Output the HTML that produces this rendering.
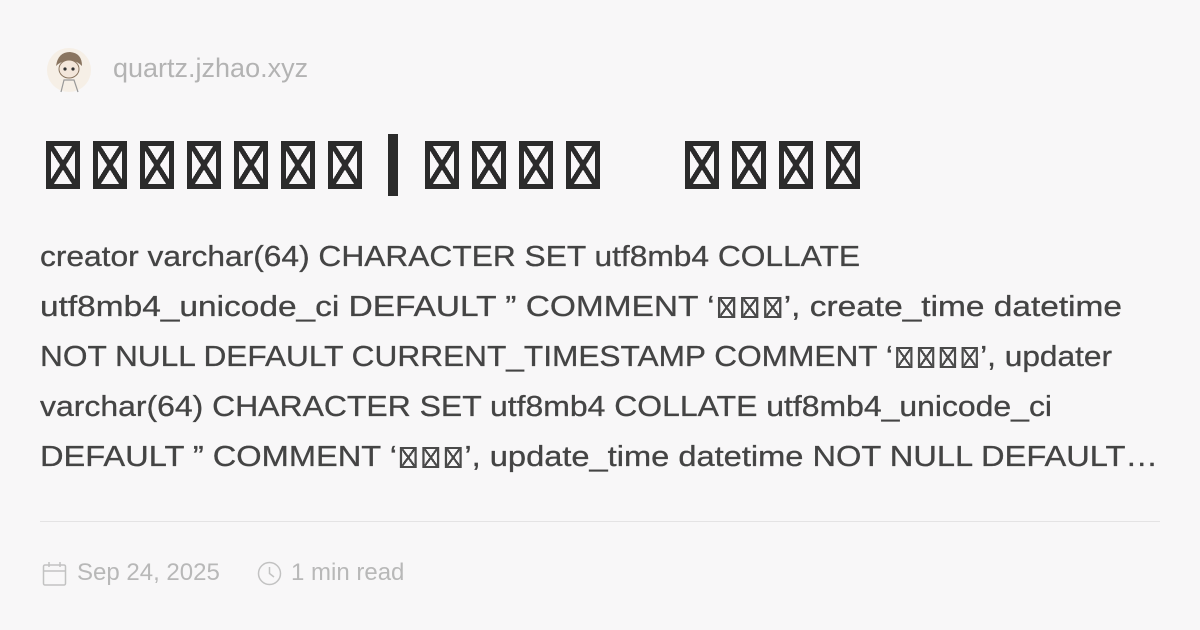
<!DOCTYPE html>
<html><head><meta charset="utf-8">
<style>
html,body{margin:0;padding:0;}
body{width:1200px;height:630px;background:#f8f7f8;position:relative;overflow:hidden;font-family:"Liberation Sans","Noto Sans CJK SC",sans-serif;}
.abs{position:absolute;}
.tb{display:block;position:absolute;top:0;box-sizing:border-box;border:5px solid #2b2b2b;width:34px;height:48px;
background:linear-gradient(to top right,transparent calc(50% - 2.5px),#2b2b2b calc(50% - 2.5px),#2b2b2b calc(50% + 2.5px),transparent calc(50% + 2.5px)),
linear-gradient(to top left,transparent calc(50% - 2.5px),#2b2b2b calc(50% - 2.5px),#2b2b2b calc(50% + 2.5px),transparent calc(50% + 2.5px));}
.sb{display:inline-block;box-sizing:border-box;border:2px solid #4a4a4a;width:15px;height:21px;margin:0 2.5px;vertical-align:-2px;
background:linear-gradient(to top right,transparent calc(50% - 1px),#4a4a4a calc(50% - 1px),#4a4a4a calc(50% + 1px),transparent calc(50% + 1px)),
linear-gradient(to top left,transparent calc(50% - 1px),#4a4a4a calc(50% - 1px),#4a4a4a calc(50% + 1px),transparent calc(50% + 1px));}
.line{position:absolute;left:40px;white-space:nowrap;font-size:29px;color:#444;transform-origin:0 50%;line-height:36px;-webkit-text-stroke:0.3px #444;}
.meta{font-size:24px;color:#b8b8b8;}
</style></head><body>
<svg class="abs" style="left:46px;top:46px" width="46" height="48" viewBox="0 0 46 48">
<circle cx="23" cy="24" r="22" fill="#f6efe6"/>
<path d="M10 20 Q12 6 24 6 Q36 7 36 20 Q30 14 24 15 Q16 14 10 20Z" fill="#8a7560"/>
<ellipse cx="23" cy="23" rx="10" ry="9" fill="#f3e6da" stroke="#8a7560" stroke-width="1"/>
<circle cx="19" cy="23" r="1.6" fill="#333"/><circle cx="27" cy="23" r="1.6" fill="#333"/>
<path d="M15 46 L18 34 L28 34 L32 46" fill="none" stroke="#999" stroke-width="1.2"/>
</svg>
<div class="abs" style="left:113px;top:53px;font-size:27px;color:#b3b3b3;">quartz.jzhao.xyz</div>

<div class="abs" style="left:46px;top:141px;width:900px;height:48px;">
<span class="tb" style="left:0"></span><span class="tb" style="left:47px"></span><span class="tb" style="left:94px"></span><span class="tb" style="left:141px"></span><span class="tb" style="left:188px"></span><span class="tb" style="left:235px"></span><span class="tb" style="left:282px"></span>
<span class="abs" style="left:342px;top:-7px;width:10px;height:62px;background:#2b2b2b"></span>
<span class="tb" style="left:379px"></span><span class="tb" style="left:426px"></span><span class="tb" style="left:473px"></span><span class="tb" style="left:520px"></span>
<span class="tb" style="left:639px"></span><span class="tb" style="left:686px"></span><span class="tb" style="left:733px"></span><span class="tb" style="left:780px"></span>
</div>

<div class="line" data-w="820" style="top:239px">creator varchar(64) CHARACTER SET utf8mb4 COLLATE</div>
<div class="line" data-w="1082" style="top:289px">utf8mb4_unicode_ci DEFAULT ” COMMENT ‘<span class="sb"></span><span class="sb"></span><span class="sb"></span>’, create_time datetime</div>
<div class="line" data-w="1072" style="top:339px">NOT NULL DEFAULT CURRENT_TIMESTAMP COMMENT ‘<span class="sb"></span><span class="sb"></span><span class="sb"></span><span class="sb"></span>’, updater</div>
<div class="line" data-w="1012" style="top:389px">varchar(64) CHARACTER SET utf8mb4 COLLATE utf8mb4_unicode_ci</div>
<div class="line" data-w="1118" style="top:439px">DEFAULT ” COMMENT ‘<span class="sb"></span><span class="sb"></span><span class="sb"></span>’, update_time datetime NOT NULL DEFAULT…</div>

<div class="abs" style="left:40px;top:521px;width:1120px;height:1px;background:#e4e3e4"></div>

<svg class="abs" style="left:42px;top:561px" width="25" height="26" viewBox="0 0 25 26">
<rect x="1.5" y="4" width="22" height="20" rx="1.5" fill="none" stroke="#c2c2c2" stroke-width="1.5"/>
<line x1="1.5" y1="10" x2="23.5" y2="10" stroke="#c2c2c2" stroke-width="1.5"/>
<line x1="7" y1="1" x2="7" y2="6" stroke="#c2c2c2" stroke-width="1.5"/><line x1="18" y1="1" x2="18" y2="6" stroke="#c2c2c2" stroke-width="1.5"/>
</svg>
<div class="abs meta" style="left:77px;top:559px;">Sep 24, 2025</div>
<svg class="abs" style="left:257px;top:561px" width="25" height="25" viewBox="0 0 25 25">
<circle cx="12.5" cy="12.5" r="11" fill="none" stroke="#c2c2c2" stroke-width="1.5"/>
<path d="M12.5 6 V12.5 L17 16" fill="none" stroke="#c2c2c2" stroke-width="1.5"/>
</svg>
<div class="abs meta" style="left:291px;top:559px;">1 min read</div>

<script>
document.querySelectorAll('.line').forEach(function(el){
  var w=el.getBoundingClientRect().width;var t=+el.getAttribute('data-w');
  if(w>0)el.style.transform='scaleX('+(t/w)+')';
});
</script>
</body></html>
